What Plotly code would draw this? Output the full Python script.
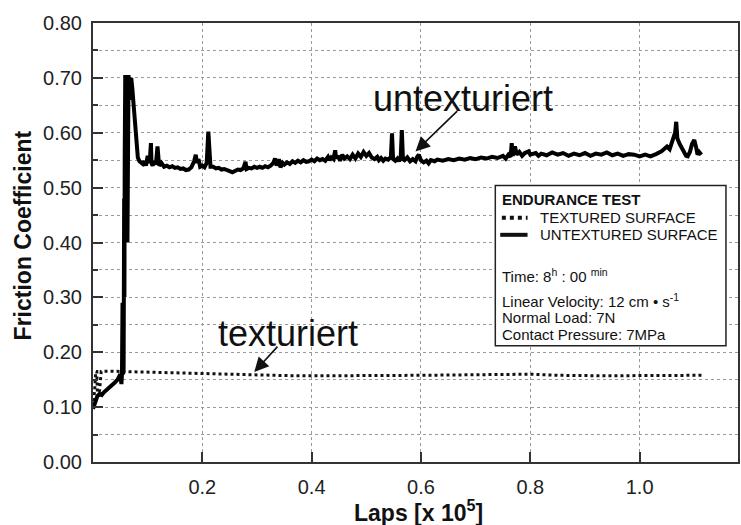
import plotly.graph_objects as go

# ---------------- data ----------------
untex_x = [0.000, 0.004, 0.008, 0.012, 0.016, 0.020, 0.025, 0.030, 0.035, 0.040, 0.045, 0.049,
           0.050, 0.051, 0.052, 0.053, 0.054, 0.055, 0.056, 0.057, 0.0575, 0.058, 0.059, 0.060,
           0.061, 0.062, 0.063, 0.064, 0.065, 0.066, 0.067, 0.068, 0.069, 0.070, 0.071, 0.072,
           0.074, 0.076, 0.078, 0.080, 0.082, 0.085, 0.088, 0.091, 0.094, 0.097, 0.100, 0.102,
           0.104, 0.106, 0.107, 0.109, 0.112, 0.115, 0.118, 0.119, 0.121, 0.125, 0.130, 0.135,
           0.140, 0.145, 0.150, 0.155, 0.160, 0.165, 0.170, 0.175, 0.180, 0.185, 0.188, 0.190,
           0.193, 0.196, 0.200, 0.204, 0.208, 0.211, 0.213, 0.215, 0.220, 0.225, 0.230, 0.235,
           0.240, 0.245, 0.250, 0.255, 0.260, 0.265, 0.270, 0.275, 0.279, 0.281, 0.285, 0.290,
           0.295, 0.300, 0.305, 0.310, 0.315, 0.320, 0.325, 0.330, 0.333, 0.336, 0.340, 0.343,
           0.347, 0.350, 0.355, 0.360, 0.365, 0.370, 0.375, 0.380, 0.385, 0.390, 0.395, 0.400,
           0.405, 0.410, 0.415, 0.420, 0.425, 0.430, 0.433, 0.436, 0.440, 0.443, 0.445, 0.448,
           0.452, 0.456, 0.460, 0.465, 0.470, 0.475, 0.480, 0.485, 0.490, 0.495, 0.500, 0.505,
           0.510, 0.515, 0.520, 0.523, 0.527, 0.531, 0.535, 0.540, 0.545, 0.547, 0.549, 0.553,
           0.557, 0.560, 0.563, 0.565, 0.567, 0.570, 0.575, 0.580, 0.585, 0.590, 0.593, 0.596,
           0.600, 0.605, 0.610, 0.614, 0.618, 0.625, 0.630, 0.640, 0.650, 0.660, 0.670, 0.680,
           0.690, 0.700, 0.710, 0.720, 0.730, 0.740, 0.750, 0.755, 0.760, 0.764, 0.766, 0.768,
           0.772, 0.775, 0.780, 0.785, 0.790, 0.797, 0.800, 0.810, 0.815, 0.820, 0.830, 0.840,
           0.850, 0.860, 0.870, 0.880, 0.890, 0.900, 0.910, 0.920, 0.930, 0.940, 0.950, 0.960,
           0.970, 0.980, 0.990, 1.000, 1.010, 1.020, 1.030, 1.040, 1.050, 1.055, 1.060, 1.065,
           1.067, 1.069, 1.073, 1.076, 1.080, 1.085, 1.088, 1.092, 1.096, 1.100, 1.103, 1.106,
           1.109, 1.113]
untex_y = [0.097, 0.112, 0.120, 0.124, 0.122, 0.127, 0.131, 0.136, 0.140, 0.145, 0.150, 0.156,
           0.160, 0.150, 0.142, 0.160, 0.290, 0.160, 0.170, 0.480, 0.300, 0.550, 0.705, 0.690,
           0.700, 0.680, 0.400, 0.690, 0.705, 0.685, 0.700, 0.695, 0.660, 0.700, 0.690, 0.680,
           0.650, 0.620, 0.600, 0.575, 0.555, 0.548, 0.545, 0.543, 0.548, 0.540, 0.558, 0.545,
           0.552, 0.581, 0.545, 0.540, 0.548, 0.542, 0.575, 0.560, 0.540, 0.545, 0.538, 0.540,
           0.537, 0.539, 0.536, 0.537, 0.534, 0.535, 0.532, 0.533, 0.537, 0.548, 0.560, 0.545,
           0.552, 0.538, 0.540, 0.537, 0.545, 0.602, 0.550, 0.538, 0.538, 0.535, 0.536, 0.533,
           0.534, 0.531, 0.530, 0.528, 0.531, 0.533, 0.532, 0.535, 0.547, 0.534, 0.536, 0.535,
           0.538, 0.536, 0.538, 0.536, 0.539, 0.537, 0.540, 0.545, 0.553, 0.540, 0.552, 0.537,
           0.545, 0.542, 0.546, 0.543, 0.548, 0.545, 0.549, 0.546, 0.550, 0.547, 0.548, 0.551,
           0.548, 0.553, 0.550, 0.552, 0.549, 0.556, 0.550, 0.555, 0.552, 0.568, 0.553, 0.558,
           0.549, 0.560, 0.553, 0.557, 0.552, 0.560, 0.553, 0.562, 0.556, 0.565, 0.558, 0.563,
           0.555, 0.552, 0.556, 0.550, 0.554, 0.549, 0.553, 0.551, 0.556, 0.599, 0.552, 0.549,
           0.553, 0.548, 0.556, 0.605, 0.552, 0.550, 0.555, 0.548, 0.552, 0.548, 0.556, 0.560,
           0.550, 0.546, 0.549, 0.544, 0.550, 0.548, 0.551, 0.549, 0.552, 0.550, 0.553, 0.551,
           0.554, 0.552, 0.555, 0.553, 0.556, 0.554, 0.558, 0.553, 0.560, 0.556, 0.581, 0.558,
           0.575, 0.560, 0.565, 0.558, 0.563, 0.566, 0.560, 0.563, 0.558, 0.562, 0.559, 0.564,
           0.560, 0.563, 0.558, 0.562, 0.559, 0.563, 0.558, 0.562, 0.560, 0.564, 0.559, 0.562,
           0.558, 0.561, 0.560, 0.557, 0.560, 0.557, 0.561, 0.566, 0.575, 0.570, 0.585, 0.600,
           0.620, 0.590, 0.580, 0.575, 0.565, 0.558, 0.557, 0.565, 0.580, 0.587, 0.575, 0.560,
           0.565, 0.560]

tex_x = [0.000, 0.003, 0.005, 0.007, 0.008, 0.010, 0.012, 0.015, 0.030, 0.050, 0.080, 0.120,
         0.160, 0.200, 0.250, 0.300, 0.350, 0.400, 0.450, 0.500, 0.550, 0.600, 0.650, 0.700,
         0.750, 0.780, 0.800, 0.850, 0.900, 0.950, 1.000, 1.050, 1.100, 1.118]
tex_y = [0.100, 0.130, 0.165, 0.165, 0.125, 0.120, 0.130, 0.165, 0.1655, 0.165, 0.164, 0.163,
         0.161, 0.160, 0.1595, 0.158, 0.1575, 0.157, 0.157, 0.157, 0.1575, 0.158, 0.1585, 0.159,
         0.1595, 0.161, 0.160, 0.158, 0.157, 0.157, 0.1575, 0.158, 0.158, 0.158]

x_tickvals = [0.2, 0.4, 0.6, 0.8, 1.0]
x_ticktext = ["0.2", "0.4", "0.6", "0.8", "1.0"]
y_tickvals = [0.0, 0.1, 0.2, 0.3, 0.4, 0.5, 0.6, 0.7, 0.8]
y_ticktext = ["0.00", "0.10", "0.20", "0.30", "0.40", "0.50", "0.60", "0.70", "0.80"]

legend_title = "ENDURANCE TEST"
series_names = ["TEXTURED SURFACE", "UNTEXTURED SURFACE"]
info_lines = ["Time: 8<sup>h</sup> : 00 <sup>min</sup>",
              "Linear Velocity: 12 cm \u2022 s<sup>-1</sup>",
              "Normal Load: 7N",
              "Contact Pressure: 7MPa"]

FONT = "Liberation Sans, Arial, sans-serif"
AX = "#333333"
GRID = "#9a9a9a"

fig = go.Figure()
fig.add_trace(go.Scatter(x=tex_x, y=tex_y, mode="lines", name=series_names[0],
                         line=dict(color="#111111", width=3, dash="dot"), showlegend=False))
fig.add_trace(go.Scatter(x=untex_x, y=untex_y, mode="lines", name=series_names[1],
                         line=dict(color="#000000", width=4), showlegend=False))

fig.update_layout(
    width=741, height=525,
    margin=dict(l=93, r=1, t=23, b=63),
    paper_bgcolor="white", plot_bgcolor="white",
    font=dict(family=FONT, color="#222222"),
    xaxis=dict(range=[0, 1.18], tickvals=x_tickvals, ticktext=x_ticktext,
               ticks="inside", ticklen=10, tickwidth=2, tickcolor=AX,
               showline=True, linecolor=AX, linewidth=2, mirror=True,
               showgrid=True, gridcolor=GRID, griddash="dot", gridwidth=1,
               zeroline=False, tickfont=dict(size=20, family=FONT, color="#222"),
               ticklabelstandoff=6),
    yaxis=dict(range=[0, 0.8], tickvals=y_tickvals, ticktext=y_ticktext,
               ticks="inside", ticklen=10, tickwidth=2, tickcolor=AX,
               showline=True, linecolor=AX, linewidth=2, mirror=True,
               showgrid=True, gridcolor=GRID, griddash="dot", gridwidth=1,
               zeroline=False, tickfont=dict(size=20, family=FONT, color="#222"),
               ticklabelstandoff=5,
               minor=dict(dtick=0.05, ticks="inside", ticklen=5, tickwidth=2, tickcolor=AX,
                          showgrid=True, gridcolor=GRID, griddash="dot", gridwidth=1)),
)

# axis titles
fig.add_annotation(xref="paper", yref="paper", x=0.504, y=-0.112, yanchor="middle",
                   text="<b>Laps [x 10<sup>5</sup>]</b>", showarrow=False,
                   font=dict(size=23, family=FONT, color="#111"))
fig.add_annotation(xref="paper", yref="paper", x=-0.108, y=0.517, xanchor="center",
                   yanchor="middle", textangle=-90,
                   text="<b>Friction Coefficient</b>", showarrow=False,
                   font=dict(size=23, family=FONT, color="#111"))

# curve labels with arrows
fig.add_annotation(x=0.676, y=0.663, text="untexturiert", showarrow=False,
                   font=dict(size=36, family=FONT, color="#111"))
fig.add_annotation(x=0.590, y=0.566, ax=0.669, ay=0.642, axref="x", ayref="y",
                   text="", showarrow=True, arrowhead=2, arrowsize=1.8, arrowwidth=1.6,
                   arrowcolor="#111")
fig.add_annotation(x=0.357, y=0.234, text="texturiert", showarrow=False,
                   font=dict(size=36, family=FONT, color="#111"))
fig.add_annotation(x=0.295, y=0.164, ax=0.340, ay=0.213, axref="x", ayref="y",
                   text="", showarrow=True, arrowhead=2, arrowsize=1.8, arrowwidth=1.6,
                   arrowcolor="#111")

# legend box
fig.add_shape(type="rect", x0=0.736, x1=1.158, y0=0.212, y1=0.504,
              line=dict(color="#222", width=1.5), fillcolor="white", layer="above")
fig.add_annotation(x=0.745, y=0.478, xanchor="left", yanchor="middle",
                   text="<b>" + legend_title + "</b>", showarrow=False,
                   font=dict(size=15, family=FONT, color="#111"))
fig.add_shape(type="line", x0=0.748, x1=0.795, y0=0.445, y1=0.445,
              line=dict(color="#111", width=4, dash="dot"), layer="above")
fig.add_annotation(x=0.815, y=0.445, xanchor="left", yanchor="middle",
                   text=series_names[0], showarrow=False,
                   font=dict(size=15, family=FONT, color="#111"))
fig.add_shape(type="line", x0=0.745, x1=0.795, y0=0.414, y1=0.414,
              line=dict(color="#111", width=4), layer="above")
fig.add_annotation(x=0.815, y=0.414, xanchor="left", yanchor="middle",
                   text=series_names[1], showarrow=False,
                   font=dict(size=15, family=FONT, color="#111"))
info_y = [0.340, 0.295, 0.263, 0.233]
for t, yy in zip(info_lines, info_y):
    fig.add_annotation(x=0.745, y=yy, xanchor="left", yanchor="middle", text=t,
                       showarrow=False, font=dict(size=15, family=FONT, color="#111"))

fig.write_html("out.html", config={"displayModeBar": False},
               post_script="document.body.style.margin='0px';document.body.style.overflow='hidden';")
